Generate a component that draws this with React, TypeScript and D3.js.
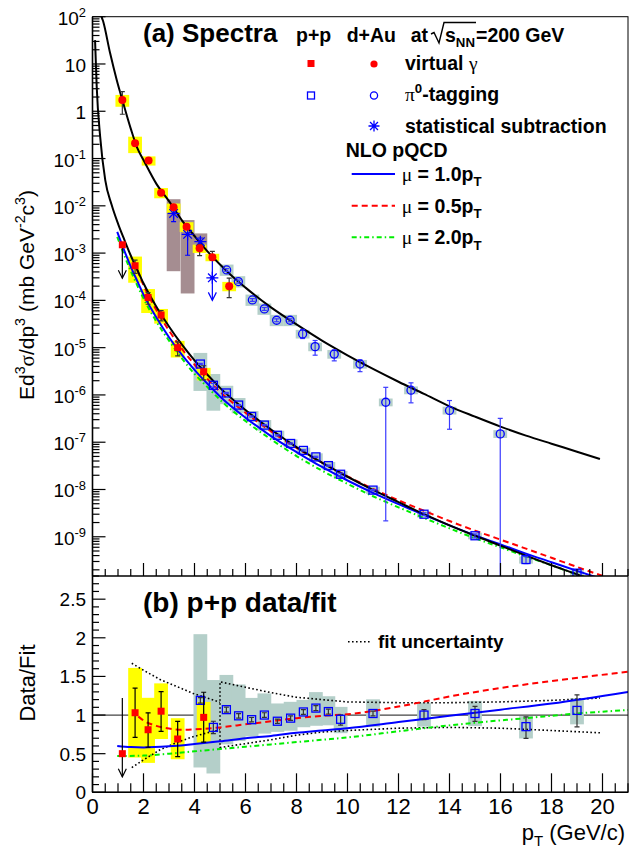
import { useEffect, useRef } from 'react';
import * as d3 from 'd3';

// ---------------------------------------------------------------------------
// Palette / fonts
// ---------------------------------------------------------------------------
const FONT = '"Liberation Sans", Arial, Helvetica, sans-serif';
const SERIF = '"Liberation Serif", "DejaVu Serif", serif';
const YELLOW = '#ffff00';
const TEAL = '#b4cfc9';
const MAUVE = '#a58d91';
const RED = '#ff0000';
const BLUE = '#0000ff';
const BLUE_ERR = '#3a3aff';
const GREEN = '#00ee00';
const INK = '#000000';

// ---------------------------------------------------------------------------
// Data
// ---------------------------------------------------------------------------
// fit curves in panel (a): [pT, Ed3sigma/dp3]
const fitDAu: [number, number][] = [
  [0.33, 126], [0.36, 100], [0.42, 79], [0.69, 17], [0.95, 4.6], [1.17, 1.74],
  [1.5, 0.43], [1.75, 0.17], [2.0, 0.093], [2.5, 0.0295], [3.0, 0.0126],
  [3.5, 5.0e-3], [4.0, 2.3e-3], [4.5, 1.1e-3], [5.0, 5.75e-4], [5.5, 3.16e-4],
  [6.0, 1.86e-4], [7.0, 7.1e-5], [8.0, 3.1e-5], [9.0, 1.41e-5], [10, 6.9e-6],
  [11, 3.55e-6], [12, 1.9e-6], [13, 1.05e-6], [14, 5.75e-7], [15, 3.47e-7],
  [16, 2.14e-7], [17, 1.38e-7], [18, 9.3e-8], [19, 6.3e-8], [19.9, 4.4e-8],
];
const fitPP: [number, number][] = [
  [0.1, 32], [0.165, 3.3], [0.3, 0.29], [0.5, 0.035], [0.75, 1.05e-2],
  [1.0, 4.2e-3], [1.25, 1.9e-3], [1.5, 8.9e-4], [1.75, 4.5e-4], [2.0, 2.3e-4],
  [2.5, 7.4e-5], [3.0, 2.8e-5], [3.5, 1.17e-5], [4.0, 5.4e-6], [4.5, 2.7e-6],
  [5.0, 1.41e-6], [6.0, 4.8e-7], [7.0, 1.86e-7], [8.0, 7.9e-8], [9.0, 3.7e-8],
  [10, 1.86e-8], [11, 9.8e-9], [12, 5.4e-9], [13, 3.0e-9], [14, 1.74e-9],
  [15, 1.05e-9], [16, 6.5e-10], [17, 4.0e-10], [18, 2.5e-10], [19, 1.6e-10],
  [19.5, 1.26e-10],
];
// NLO pQCD in panel (a)
const nloMu10: [number, number][] = [
  [0.97, 2.8e-3], [1.25, 1.12e-3], [1.5, 5.2e-4], [1.75, 2.6e-4], [2.0, 1.32e-4],
  [2.5, 4.4e-5], [3.0, 1.66e-5], [3.5, 7.1e-6], [4.0, 3.4e-6], [4.5, 1.74e-6],
  [5.0, 9.3e-7], [6.0, 3.3e-7], [7.0, 1.35e-7], [8.0, 6.2e-8], [9.0, 3.0e-8],
  [10, 1.55e-8], [11, 8.5e-9], [12, 4.9e-9], [13, 2.9e-9], [14, 1.74e-9],
  [15, 1.07e-9], [16, 6.9e-10], [17, 4.4e-10], [18, 2.9e-10], [19, 1.9e-10],
  [20, 1.26e-10],
];
const nloMu05: [number, number][] = [
  [1.75, 4.4e-4], [2.0, 2.1e-4], [2.5, 6.3e-5], [3.0, 2.3e-5], [3.5, 9.5e-6],
  [4.0, 4.4e-6], [4.5, 2.2e-6], [5.0, 1.17e-6], [6.0, 4.2e-7], [7.0, 1.7e-7],
  [8.0, 7.6e-8], [9.0, 3.7e-8], [10, 1.9e-8], [11, 1.03e-8], [12, 5.9e-9],
  [13, 3.55e-9], [14, 2.15e-9], [15, 1.35e-9], [16, 8.7e-10], [17, 5.6e-10],
  [18, 3.6e-10], [19, 2.3e-10], [20, 1.5e-10], [20.5, 1.26e-10],
];
const nloMu20: [number, number][] = [
  [0.97, 2.2e-3], [1.25, 8.9e-4], [1.5, 4.2e-4], [1.75, 2.1e-4], [2.0, 1.1e-4],
  [2.5, 3.6e-5], [3.0, 1.41e-5], [3.5, 6.0e-6], [4.0, 2.8e-6], [4.5, 1.48e-6],
  [5.0, 7.9e-7], [6.0, 2.8e-7], [7.0, 1.15e-7], [8.0, 5.1e-8], [9.0, 2.5e-8],
  [10, 1.32e-8], [11, 7.2e-9], [12, 4.2e-9], [13, 2.5e-9], [14, 1.51e-9],
  [15, 9.3e-10], [16, 6.0e-10], [17, 3.8e-10], [18, 2.5e-10], [19, 1.6e-10],
  [20, 1.05e-10],
];
// NLO / fit in panel (b)
const ratioMu10: [number, number][] = [
  [0.97, 0.6], [1.5, 0.585], [2, 0.58], [3, 0.595], [4, 0.625], [5, 0.66],
  [6, 0.7], [7, 0.73], [8, 0.77], [9, 0.8], [10, 0.83], [12, 0.91], [14, 0.99],
  [16, 1.07], [18, 1.15], [21, 1.3],
];
const ratioMu05: [number, number][] = [
  [1.8, 0.98], [2, 0.93], [2.5, 0.86], [3, 0.825], [3.5, 0.81], [4, 0.815],
  [5, 0.84], [6, 0.88], [7, 0.92], [8, 0.96], [9, 0.99], [10, 1.01], [12, 1.11],
  [14, 1.24], [16, 1.35], [18, 1.44], [21, 1.56],
];
const ratioMu20: [number, number][] = [
  [0.97, 0.47], [2, 0.475], [3, 0.5], [4, 0.53], [5, 0.56], [6, 0.59], [7, 0.62],
  [8, 0.65], [9, 0.68], [10, 0.71], [12, 0.79], [13, 0.83], [15, 0.9], [17, 0.96],
  [19, 1.02], [21, 1.065],
];
// fit uncertainty band (two pieces)
const fitUncUp1: [number, number][] = [[1.54, 1.67], [2, 1.58], [2.65, 1.46], [3.3, 1.37], [3.95, 1.28], [4.5, 1.22], [5.0, 1.165]];
const fitUncLo1: [number, number][] = [[1.54, 0.32], [2, 0.42], [2.65, 0.55], [3.3, 0.645], [3.95, 0.72], [4.5, 0.77], [5.0, 0.81]];
const fitUncUp2: [number, number][] = [[5.0, 1.43], [6, 1.36], [7, 1.29], [8, 1.23], [9, 1.2], [10, 1.17], [12, 1.16], [14, 1.16], [16, 1.17], [18, 1.19], [19.9, 1.22]];
const fitUncLo2: [number, number][] = [[5.0, 0.58], [6, 0.63], [7, 0.68], [8, 0.74], [9, 0.78], [10, 0.8], [12, 0.83], [14, 0.84], [16, 0.83], [18, 0.8], [19.9, 0.77]];

// p+p virtual gamma (red squares)
const ppVgPt = [1.67, 2.18, 2.69, 3.34, 4.36];
const ppVgVal = [5.4e-4, 1.15e-4, 4.9e-5, 1.0e-5, 3.1e-6];
const ppVgRatio = [1.03, 0.81, 1.05, 0.69, 0.97];
const ppVgStat = [[0.69, 1.31], [0.72, 1.27], [0.75, 1.24], [0.67, 1.33], [0.67, 1.335]];
const ppVgSys = [[0.437, 1.563], [0.47, 1.51], [0.657, 1.343], [0.62, 1.39], [0.655, 1.206]];
const ppVgLimit = { pt: 1.17, val: 1.5e-3, low: 2.95e-4, ratio: 0.5, ratioHigh: 1.22, ratioLow: 0.2 };

// p+p pi0-tagging (blue open squares)
const ppPi0Pt = [4.23, 4.74, 5.25, 5.73, 6.24, 6.74, 7.25, 7.77, 8.27, 8.76, 9.25, 9.73, 11, 13, 15, 17, 19];
const ppPi0Val = [4.5e-6, 1.6e-6, 1.1e-6, 6.1e-7, 3.5e-7, 2.3e-7, 1.4e-7, 9.4e-8, 6.7e-8, 4.9e-8, 3.2e-8, 2.1e-8, 9.7e-9, 3.0e-9, 1.05e-9, 3.3e-10, 1.7e-10];
const ppPi0Ratio = [1.19, 0.84, 1.07, 0.99, 0.94, 1.0, 0.92, 0.96, 1.04, 1.09, 1.045, 0.945, 1.02, 1.0, 1.02, 0.85, 1.06];
const ppPi0Stat = [[0.97, 1.03], [0.905, 1.095], [0.97, 1.03], [0.97, 1.03], [0.97, 1.03], [0.97, 1.03], [0.97, 1.03], [0.97, 1.03], [0.97, 1.03], [0.97, 1.03], [0.97, 1.03], [0.92, 1.06], [0.97, 1.03], [0.94, 1.07], [0.9, 1.09], [0.82, 1.15], [0.8, 1.19]];
const ppPi0Sys = [[0.27, 1.72], [0.29, 1.73], [0.58, 1.42], [0.67, 1.41], [0.77, 1.3], [0.76, 1.28], [0.85, 1.25], [0.83, 1.22], [0.81, 1.15], [0.79, 1.19], [0.83, 1.19], [0.81, 1.17], [0.83, 1.18], [0.85, 1.16], [0.84, 1.16], [0.82, 1.16], [0.83, 1.15]];

// d+Au virtual gamma (red circles)
const dAuVgPt = [1.17, 1.67, 2.2, 2.69, 3.18, 3.69, 4.2, 4.7, 5.36];
const dAuVgVal = [1.73, 0.21, 0.091, 0.019, 9.3e-3, 3.6e-3, 1.26e-3, 8.2e-4, 2.0e-4];
const dAuVgStat = [[0.5, 1.5], [0.9, 1.1], [0.95, 1.05], [0.92, 1.08], [0.92, 1.08], [0.9, 1.1], [0.7, 1.2], [0.85, 1.32], [0.57, 1.48]];
const dAuVgSys = [[0.72, 1.28], [0.62, 1.38], [0.78, 1.22], [0.76, 1.25], [0.75, 1.2], [0.78, 1.25], [0.8, 1.2], [0.82, 1.18], [0.78, 1.23]];

// d+Au statistical subtraction (asterisks)
const subPt = [3.18, 3.73, 4.23];
const subVal = [6.9e-3, 2.5e-3, 1.74e-3];
const subStat = [[0.67, 1.29], [0.36, 1.28], [0.8, 1.2]];
const subSys = [[0.06, 2.0], [0.056, 2.0], [0.61, 1.5]];
const subLimit = { pt: 4.7, val: 3.0e-4, high: 7.1e-4, low: 1.0e-4 };

// d+Au pi0-tagging (blue open circles)
const dAuPi0Pt = [5.26, 5.72, 6.27, 6.74, 7.22, 7.75, 8.24, 8.73, 9.48, 10.49, 11.5, 12.49, 14.0, 15.99];
const dAuPi0Val = [4.4e-4, 2.5e-4, 1.02e-4, 6.6e-5, 3.8e-5, 3.8e-5, 1.95e-5, 1.05e-5, 7.3e-6, 4.5e-6, 7.0e-7, 1.26e-6, 4.7e-7, 1.5e-7];
const dAuPi0Stat = [[0.93, 1.07], [0.93, 1.07], [0.93, 1.07], [0.93, 1.07], [0.93, 1.07], [0.93, 1.07], [0.8, 1.25], [0.66, 1.35], [0.72, 1.23], [0.69, 1.23], [0.0031, 2.07], [0.54, 1.43], [0.4, 1.62], [0.0, 2.13]];
const dAuPi0Sys = [[0.75, 1.3], [0.75, 1.3], [0.75, 1.3], [0.75, 1.3], [0.75, 1.3], [0.75, 1.3], [0.8, 1.22], [0.8, 1.22], [0.8, 1.22], [0.8, 1.22], [0.82, 1.2], [0.82, 1.2], [0.82, 1.2], [0.82, 1.2]];

// axes
const xTicks = [0, 2, 4, 6, 8, 10, 12, 14, 16, 18, 20];
const decades = [-9, -8, -7, -6, -5, -4, -3, -2, -1, 0, 1, 2];
const ratioTicks = [0, 0.5, 1, 1.5, 2, 2.5];

// ---------------------------------------------------------------------------
// Layout
// ---------------------------------------------------------------------------
const W = 629;
const H = 851;
const LEFT = 92.5;
const RIGHT = 628;
const TOP = 16.7;
const MID = 576;
const BOTTOM = 792.3;
const BOX_HW = 0.27;

type Sel = d3.Selection<SVGGElement, unknown, null, undefined>;
type Part = { t: string; sup?: boolean; sub?: boolean; greek?: boolean };

function rich(g: Sel, x: number, y: number, parts: Part[], size: number, weight: string, anchor = 'start') {
  const text = g.append('text')
    .attr('x', x).attr('y', y)
    .attr('font-family', FONT).attr('font-size', size)
    .attr('font-weight', weight).attr('text-anchor', anchor).attr('fill', INK);
  let shift = 0;
  parts.forEach((p) => {
    const target = p.sup ? -0.42 * size : p.sub ? 0.28 * size : 0;
    const ts = text.append('tspan').attr('dy', target - shift).text(p.t);
    if (p.sup || p.sub) ts.attr('font-size', size * 0.68);
    if (p.greek) ts.attr('font-family', SERIF).attr('font-weight', 'normal');
    shift = target;
  });
  return text;
}

function errBar(g: Sel, cx: number, y1: number, y2: number, color: string, cap = 2.5) {
  g.append('line').attr('x1', cx).attr('x2', cx).attr('y1', y1).attr('y2', y2)
    .attr('stroke', color).attr('stroke-width', 1.2);
  [y1, y2].forEach((yy) => {
    g.append('line').attr('x1', cx - cap).attr('x2', cx + cap).attr('y1', yy).attr('y2', yy)
      .attr('stroke', color).attr('stroke-width', 1.2);
  });
}

function arrowDown(g: Sel, cx: number, y1: number, y2: number, color: string) {
  g.append('line').attr('x1', cx).attr('x2', cx).attr('y1', y1).attr('y2', y2)
    .attr('stroke', color).attr('stroke-width', 1.2);
  g.append('path').attr('d', `M${cx - 4},${y2 - 8}L${cx},${y2}L${cx + 4},${y2 - 8}`)
    .attr('fill', 'none').attr('stroke', color).attr('stroke-width', 1.2);
}

function square(g: Sel, cx: number, cy: number, s: number, filled: boolean, color: string) {
  g.append('rect').attr('x', cx - s / 2).attr('y', cy - s / 2).attr('width', s).attr('height', s)
    .attr('fill', filled ? color : 'none').attr('stroke', color).attr('stroke-width', filled ? 0 : 1.3);
}

function circle(g: Sel, cx: number, cy: number, r: number, filled: boolean, color: string) {
  g.append('circle').attr('cx', cx).attr('cy', cy).attr('r', r)
    .attr('fill', filled ? color : 'none').attr('stroke', color).attr('stroke-width', filled ? 0 : 1.3);
}

function asterisk(g: Sel, cx: number, cy: number, r: number, color: string) {
  const d = r * 0.72;
  const p = `M${cx - r},${cy}L${cx + r},${cy}M${cx},${cy - r}L${cx},${cy + r}` +
    `M${cx - d},${cy - d}L${cx + d},${cy + d}M${cx - d},${cy + d}L${cx + d},${cy - d}`;
  g.append('path').attr('d', p).attr('stroke', color).attr('stroke-width', 1.3).attr('fill', 'none');
}

export default function App() {
  const ref = useRef<SVGSVGElement>(null);

  useEffect(() => {
    if (!ref.current) return;
    const svg = d3.select(ref.current);
    svg.selectAll('*').remove();
    const root = svg.append('g') as unknown as Sel;

    const x = d3.scaleLinear().domain([0, 21]).range([LEFT, RIGHT]);
    const yT = d3.scaleLog().domain([1.48e-10, 100]).range([MID, TOP]);
    const yB = d3.scaleLinear().domain([0, 2.8]).range([BOTTOM, MID]);
    const yMin = 1.48e-10;

    const defs = svg.append('defs');
    defs.append('clipPath').attr('id', 'clipTop').append('rect')
      .attr('x', LEFT).attr('y', TOP).attr('width', RIGHT - LEFT).attr('height', MID - TOP);
    defs.append('clipPath').attr('id', 'clipBot').append('rect')
      .attr('x', LEFT).attr('y', MID).attr('width', RIGHT - LEFT).attr('height', BOTTOM - MID);

    const top = root.append('g').attr('clip-path', 'url(#clipTop)') as unknown as Sel;
    const bot = root.append('g').attr('clip-path', 'url(#clipBot)') as unknown as Sel;

    const lineT = d3.line<[number, number]>().x((d) => x(d[0])).y((d) => yT(d[1])).curve(d3.curveMonotoneX);
    const lineB = d3.line<[number, number]>().x((d) => x(d[0])).y((d) => yB(d[1])).curve(d3.curveMonotoneX);
    const lineStraight = d3.line<[number, number]>().x((d) => x(d[0])).y((d) => yB(d[1]));

    const box = (g: Sel, pt: number, lo: number, hi: number, ys: (v: number) => number, fill: string) => {
      g.append('rect').attr('x', x(pt - BOX_HW)).attr('width', x(pt + BOX_HW) - x(pt - BOX_HW))
        .attr('y', ys(hi)).attr('height', ys(lo) - ys(hi)).attr('fill', fill);
    };

    // ---------------- panel (a) ----------------
    // systematic boxes
    dAuPi0Pt.forEach((pt, i) => box(top, pt, dAuPi0Val[i] * dAuPi0Sys[i][0], dAuPi0Val[i] * dAuPi0Sys[i][1], yT, TEAL));
    ppPi0Pt.forEach((pt, i) => box(top, pt, ppPi0Val[i] * ppPi0Sys[i][0], ppPi0Val[i] * ppPi0Sys[i][1], yT, TEAL));
    subPt.forEach((pt, i) => box(top, pt, subVal[i] * subSys[i][0], subVal[i] * subSys[i][1], yT, MAUVE));
    dAuVgPt.forEach((pt, i) => box(top, pt, dAuVgVal[i] * dAuVgSys[i][0], dAuVgVal[i] * dAuVgSys[i][1], yT, YELLOW));
    ppVgPt.forEach((pt, i) => box(top, pt, ppVgVal[i] * ppVgSys[i][0], ppVgVal[i] * ppVgSys[i][1], yT, YELLOW));

    // NLO + fits
    top.append('path').datum(nloMu20).attr('d', lineT).attr('fill', 'none').attr('stroke', GREEN)
      .attr('stroke-width', 2).attr('stroke-dasharray', '5,3,1.5,3');
    top.append('path').datum(nloMu10).attr('d', lineT).attr('fill', 'none').attr('stroke', BLUE).attr('stroke-width', 2);
    top.append('path').datum(nloMu05).attr('d', lineT).attr('fill', 'none').attr('stroke', RED)
      .attr('stroke-width', 2).attr('stroke-dasharray', '6,4');
    top.append('path').datum(fitPP).attr('d', lineT).attr('fill', 'none').attr('stroke', INK).attr('stroke-width', 2);
    top.append('path').datum(fitDAu).attr('d', lineT).attr('fill', 'none').attr('stroke', INK).attr('stroke-width', 2);

    // d+Au pi0 tagging
    dAuPi0Pt.forEach((pt, i) => {
      const v = dAuPi0Val[i];
      const lo = Math.max(v * dAuPi0Stat[i][0], yMin / 2);
      errBar(top, x(pt), yT(v * dAuPi0Stat[i][1]), yT(lo), BLUE_ERR);
      circle(top, x(pt), yT(v), 4, false, BLUE);
    });
    // statistical subtraction
    subPt.forEach((pt, i) => {
      const v = subVal[i];
      errBar(top, x(pt), yT(v * subStat[i][1]), yT(v * subStat[i][0]), BLUE);
      asterisk(top, x(pt), yT(v), 6, BLUE);
    });
    errBar(top, x(subLimit.pt), yT(subLimit.high), yT(subLimit.val), BLUE);
    arrowDown(top, x(subLimit.pt), yT(subLimit.val), yT(subLimit.low), BLUE);
    asterisk(top, x(subLimit.pt), yT(subLimit.val), 6, BLUE);
    // d+Au virtual gamma
    dAuVgPt.forEach((pt, i) => {
      const v = dAuVgVal[i];
      errBar(top, x(pt), yT(v * dAuVgStat[i][1]), yT(v * dAuVgStat[i][0]), '#333');
      circle(top, x(pt), yT(v), 4, true, RED);
    });
    // p+p pi0 tagging
    ppPi0Pt.forEach((pt, i) => {
      const v = ppPi0Val[i];
      errBar(top, x(pt), yT(v * ppPi0Stat[i][1]), yT(v * ppPi0Stat[i][0]), BLUE_ERR);
      square(top, x(pt), yT(v), 8, false, BLUE);
    });
    // p+p virtual gamma
    arrowDown(top, x(ppVgLimit.pt), yT(ppVgLimit.val), yT(ppVgLimit.low), INK);
    square(top, x(ppVgLimit.pt), yT(ppVgLimit.val), 7, true, RED);
    ppVgPt.forEach((pt, i) => {
      const v = ppVgVal[i];
      errBar(top, x(pt), yT(v * ppVgStat[i][1]), yT(v * ppVgStat[i][0]), '#333');
      square(top, x(pt), yT(v), 7, true, RED);
    });

    // ---------------- panel (b) ----------------
    bot.append('line').attr('x1', LEFT).attr('x2', RIGHT).attr('y1', yB(1)).attr('y2', yB(1))
      .attr('stroke', '#444').attr('stroke-width', 1.2);
    ppPi0Pt.forEach((pt, i) => box(bot, pt, ppPi0Ratio[i] * ppPi0Sys[i][0], ppPi0Ratio[i] * ppPi0Sys[i][1], yB, TEAL));
    ppVgPt.forEach((pt, i) => box(bot, pt, ppVgRatio[i] * ppVgSys[i][0], ppVgRatio[i] * ppVgSys[i][1], yB, YELLOW));

    const dotted = (d: [number, number][]) => bot.append('path').datum(d).attr('d', lineStraight)
      .attr('fill', 'none').attr('stroke', INK).attr('stroke-width', 1.6).attr('stroke-dasharray', '1.6,2.4');
    dotted(fitUncUp1);
    dotted(fitUncLo1);
    dotted([...fitUncLo2].reverse().concat(fitUncUp2));

    bot.append('path').datum(ratioMu20).attr('d', lineB).attr('fill', 'none').attr('stroke', GREEN)
      .attr('stroke-width', 2).attr('stroke-dasharray', '5,3,1.5,3');
    bot.append('path').datum(ratioMu10).attr('d', lineB).attr('fill', 'none').attr('stroke', BLUE).attr('stroke-width', 2);
    bot.append('path').datum(ratioMu05).attr('d', lineB).attr('fill', 'none').attr('stroke', RED)
      .attr('stroke-width', 2).attr('stroke-dasharray', '6,4');

    ppPi0Pt.forEach((pt, i) => {
      const r = ppPi0Ratio[i];
      errBar(bot, x(pt), yB(r * ppPi0Stat[i][1]), yB(r * ppPi0Stat[i][0]), '#333');
      square(bot, x(pt), yB(r), 8, false, BLUE);
    });
    arrowDown(bot, x(ppVgLimit.pt), yB(ppVgLimit.ratioHigh), yB(ppVgLimit.ratioLow), INK);
    square(bot, x(ppVgLimit.pt), yB(ppVgLimit.ratio), 7, true, RED);
    ppVgPt.forEach((pt, i) => {
      const r = ppVgRatio[i];
      errBar(bot, x(pt), yB(r * ppVgStat[i][1]), yB(r * ppVgStat[i][0]), INK);
      square(bot, x(pt), yB(r), 7, true, RED);
    });

    // ---------------- frames & axes ----------------
    const axes = root.append('g') as unknown as Sel;
    axes.append('rect').attr('x', LEFT).attr('y', TOP).attr('width', RIGHT - LEFT).attr('height', BOTTOM - TOP)
      .attr('fill', 'none').attr('stroke', INK).attr('stroke-width', 1);
    const axisLine = (x1: number, y1: number, x2: number, y2: number) =>
      axes.append('line').attr('x1', x1).attr('y1', y1).attr('x2', x2).attr('y2', y2)
        .attr('stroke', INK).attr('stroke-width', 1.6);
    axisLine(LEFT, TOP, LEFT, BOTTOM);
    axisLine(LEFT, MID, RIGHT, MID);
    axisLine(LEFT, BOTTOM, RIGHT, BOTTOM);

    const tick = (x1: number, y1: number, x2: number, y2: number) =>
      axes.append('line').attr('x1', x1).attr('y1', y1).attr('x2', x2).attr('y2', y2)
        .attr('stroke', INK).attr('stroke-width', 1.2);

    // x ticks (both panels)
    d3.range(0, 21.01, 0.5).forEach((v) => {
      const major = Math.abs(v % 2) < 1e-6;
      tick(x(v), MID, x(v), MID - (major ? 13 : 7));
      tick(x(v), BOTTOM, x(v), BOTTOM - (major ? 19 : 9));
    });
    xTicks.forEach((v) => {
      axes.append('text').attr('x', x(v)).attr('y', 814).attr('text-anchor', 'middle')
        .attr('font-family', FONT).attr('font-size', 22).text(String(v));
    });

    // log y ticks for panel (a)
    d3.range(-10, 3).forEach((e) => {
      d3.range(1, 10).forEach((k) => {
        const v = k * Math.pow(10, e);
        if (v < yMin || v > 100.0001) return;
        tick(LEFT, yT(v), LEFT + (k === 1 ? 13 : 7), yT(v));
      });
    });
    decades.forEach((e) => {
      const yy = yT(Math.pow(10, e)) + 8;
      if (e === 0) rich(axes, 86, yy, [{ t: '1' }], 19, 'normal', 'end');
      else if (e === 1) rich(axes, 86, yy, [{ t: '10' }], 19, 'normal', 'end');
      else rich(axes, 86, yy, [{ t: '10' }, { t: String(e), sup: true }], 19, 'normal', 'end');
    });

    // linear y ticks panel (b)
    d3.range(0, 2.801, 0.1).forEach((v) => {
      const major = Math.abs((v * 2) % 1) < 1e-6 || Math.abs((v * 2) % 1 - 1) < 1e-6;
      tick(LEFT, yB(v), LEFT + (major ? 13 : 6.5), yB(v));
    });
    ratioTicks.forEach((v) => {
      axes.append('text').attr('x', 86).attr('y', yB(v) + 7).attr('text-anchor', 'end')
        .attr('font-family', FONT).attr('font-size', 19).text(String(v));
    });

    // axis titles
    const yTitle = rich(axes, 0, 0, [
      { t: 'Ed' }, { t: '3', sup: true }, { t: 'σ', greek: true }, { t: '/dp' }, { t: '3', sup: true },
      { t: ' (mb GeV' }, { t: '-2', sup: true }, { t: 'c' }, { t: '3', sup: true }, { t: ')' },
    ], 21, 'normal', 'middle');
    yTitle.attr('transform', 'translate(34,295) rotate(-90)');
    const yTitle2 = rich(axes, 0, 0, [{ t: 'Data/Fit' }], 22, 'normal', 'middle');
    yTitle2.attr('transform', 'translate(35,683) rotate(-90)');
    rich(axes, 625, 840, [{ t: 'p' }, { t: 'T', sub: true }, { t: ' (GeV/c)' }], 22, 'normal', 'end');

    // panel labels
    rich(axes, 143, 42, [{ t: '(a) Spectra' }], 26, 'bold');
    rich(axes, 143, 612, [{ t: '(b) p+p data/fit' }], 28, 'bold');

    // ---------------- legend ----------------
    const LS = 19.5;
    rich(axes, 296, 42, [{ t: 'p+p' }], LS, 'bold');
    rich(axes, 346.7, 42, [{ t: 'd+Au' }], LS, 'bold');
    rich(axes, 410.7, 42, [{ t: 'at' }], LS, 'bold');
    axes.append('path').attr('d', 'M431,34L434,32.5L439,43L444,22.5L476,22.5')
      .attr('fill', 'none').attr('stroke', INK).attr('stroke-width', 1.4);
    rich(axes, 445, 42, [{ t: 's' }, { t: 'NN', sub: true }], LS, 'bold');
    rich(axes, 476, 42, [{ t: '=200 GeV' }], LS, 'bold');

    square(axes, 311, 63.5, 7, true, RED);
    circle(axes, 374, 64, 3.6, true, RED);
    rich(axes, 405, 70, [{ t: 'virtual ' }, { t: 'γ', greek: true }], LS, 'bold');
    square(axes, 311, 95.5, 7, false, BLUE);
    circle(axes, 374, 95.5, 3.6, false, BLUE);
    rich(axes, 405, 101, [{ t: 'π', greek: true }, { t: '0', sup: true }, { t: '-tagging' }], LS, 'bold');
    asterisk(axes, 374, 126, 5.5, BLUE);
    rich(axes, 405, 133, [{ t: 'statistical subtraction' }], LS, 'bold');
    rich(axes, 345.7, 157, [{ t: 'NLO pQCD' }], LS, 'bold');

    const legLine = (yy: number, color: string, dash: string | null) => {
      const l = axes.append('line').attr('x1', 351.7).attr('x2', 395).attr('y1', yy).attr('y2', yy)
        .attr('stroke', color).attr('stroke-width', 2);
      if (dash) l.attr('stroke-dasharray', dash);
    };
    legLine(174, BLUE, null);
    legLine(205.7, RED, '6,4');
    legLine(237.3, GREEN, '5,3,1.5,3');
    rich(axes, 401.7, 181, [{ t: 'μ', greek: true }, { t: ' = 1.0p' }, { t: 'T', sub: true }], LS, 'bold');
    rich(axes, 401.7, 212.7, [{ t: 'μ', greek: true }, { t: ' = 0.5p' }, { t: 'T', sub: true }], LS, 'bold');
    rich(axes, 401.7, 244.3, [{ t: 'μ', greek: true }, { t: ' = 2.0p' }, { t: 'T', sub: true }], LS, 'bold');

    axes.append('line').attr('x1', 348).attr('x2', 372).attr('y1', 641.7).attr('y2', 641.7)
      .attr('stroke', INK).attr('stroke-width', 1.6).attr('stroke-dasharray', '1.6,2.4');
    rich(axes, 378, 648, [{ t: 'fit uncertainty' }], 19, 'bold');
  }, []);

  return (
    <svg
      ref={ref}
      width={W}
      height={H}
      style={{ position: 'absolute', left: 0, top: 0, background: '#ffffff' }}
    />
  );
}
